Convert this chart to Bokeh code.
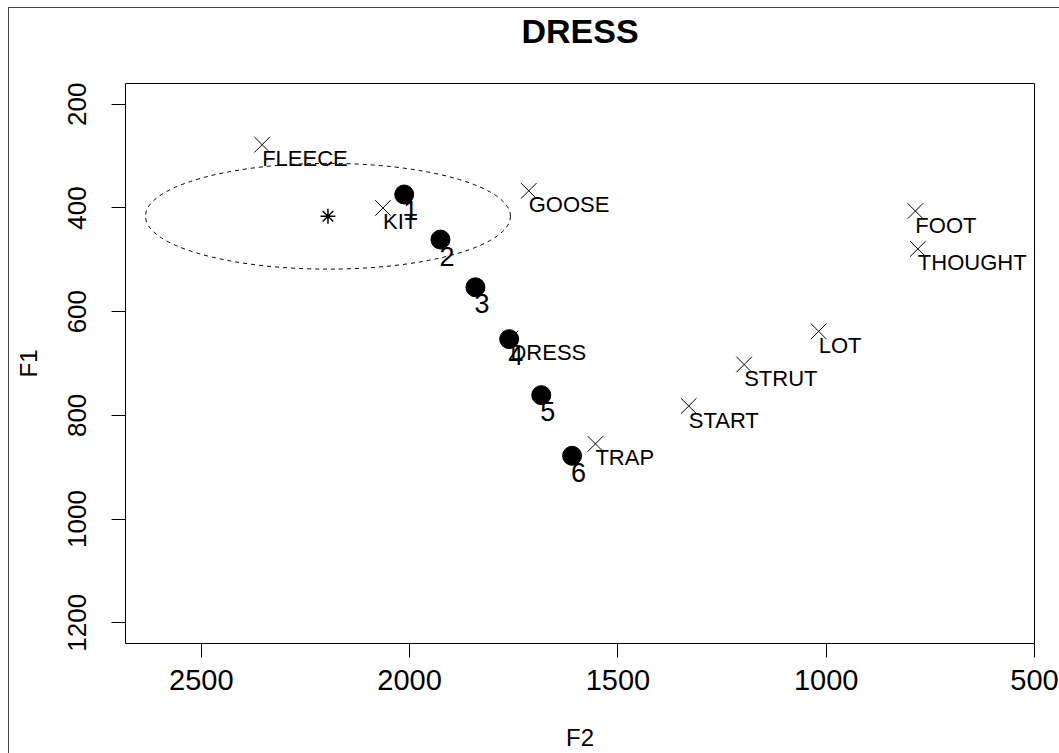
from bokeh.plotting import figure
from bokeh.models import Range1d, FixedTicker, Title
from bokeh.core.properties import value
from bokeh.embed import file_html
from bokeh.resources import INLINE

# ---- data ----
vowels = ["FLEECE", "KIT", "GOOSE", "DRESS", "TRAP", "START", "STRUT", "LOT", "FOOT", "THOUGHT"]
vowel_f2 = [2354, 2064, 1714, 1758, 1554, 1330, 1197, 1018, 786, 780]
vowel_f1 = [278, 400, 367, 652, 855, 782, 702, 638, 406, 479]

token_labels = ["1", "2", "3", "4", "5", "6"]
token_f2 = [2013, 1926, 1842, 1761, 1684, 1610]
token_f1 = [374, 461, 553, 653, 761, 878]

mean_f2 = [2196]
mean_f1 = [416]
ellipse_w = [876]
ellipse_h = [204]

x_ticks = [2500, 2000, 1500, 1000, 500]
y_ticks = [200, 400, 600, 800, 1000, 1200]
x_lim = (2682, 500)
y_lim = (1240, 160)

FONT = "Liberation Sans"

p = figure(width=1059, height=753,
           x_range=Range1d(*x_lim), y_range=Range1d(*y_lim),
           output_backend="svg", toolbar_location=None,
           min_border_left=125, min_border_right=25,
           min_border_top=83, min_border_bottom=110,
           title=None)

# thin outer device frame (left and top edges visible in the reference)
p.border_fill_color = None
p.styles = {
    "background": "linear-gradient(#444444, #444444) 8px 7px / 1px 100% no-repeat, "
                  "linear-gradient(#444444, #444444) 8px 7px / 100% 1px no-repeat, #ffffff"
}

p.grid.visible = False
p.background_fill_color = "white"
p.outline_line_color = "black"
p.outline_line_width = 1
p.outline_line_alpha = 1

# empty spacer between frame and title, then the title itself
spacer = Title(text=" ", text_font=FONT, text_font_size="10px", standoff=19)
main_title = Title(text="DRESS", text_font=FONT, text_font_size="34px",
                   text_font_style="bold", text_color="black", align="center", standoff=4)
p.add_layout(spacer, "above")
p.add_layout(main_title, "above")

for ax in (p.xaxis, p.yaxis):
    ax.axis_line_color = None
    ax.major_tick_out = 14
    ax.major_tick_in = 0
    ax.major_tick_line_color = "black"
    ax.minor_tick_line_color = None
    ax.major_label_text_font = FONT
    ax.major_label_text_color = "black"
    ax.axis_label_text_font = FONT
    ax.axis_label_text_font_style = "normal"
    ax.axis_label_text_font_size = "24px"
    ax.axis_label_text_color = "black"

p.xaxis.ticker = FixedTicker(ticks=x_ticks)
p.yaxis.ticker = FixedTicker(ticks=y_ticks)
p.xaxis.major_label_text_font_size = "29px"
p.yaxis.major_label_text_font_size = "26px"
p.yaxis.major_label_orientation = "vertical"
p.xaxis.major_label_standoff = 12
p.yaxis.major_label_standoff = 25
p.xaxis.axis_label = "F2"
p.yaxis.axis_label = "F1"
p.xaxis.axis_label_standoff = 31
p.yaxis.axis_label_standoff = 24

# ellipse around the mean
p.ellipse(x=mean_f2, y=mean_f1, width=ellipse_w, height=ellipse_h,
          fill_color=None, line_color="black", line_width=1, line_dash="4 4")

# reference vowels
p.scatter(vowel_f2, vowel_f1, marker="x", size=22, line_color="black", line_width=1)
p.text(x=vowel_f2, y=vowel_f1, text=vowels, text_font=value(FONT),
       text_font_size="22px", text_color="black",
       text_align="left", text_baseline="top", x_offset=0, y_offset=1.5)

# mean
p.scatter(mean_f2, mean_f1, marker="asterisk", size=15, line_color="black", line_width=1.5)

# tokens
p.scatter(token_f2, token_f1, marker="circle", size=19, fill_color="black", line_color="black")
p.text(x=token_f2, y=token_f1, text=token_labels, text_font=value(FONT),
       text_font_size="27px", text_color="black",
       text_align="left", text_baseline="top", x_offset=-1, y_offset=7)

open("out.html", "w").write(file_html(p, INLINE))
